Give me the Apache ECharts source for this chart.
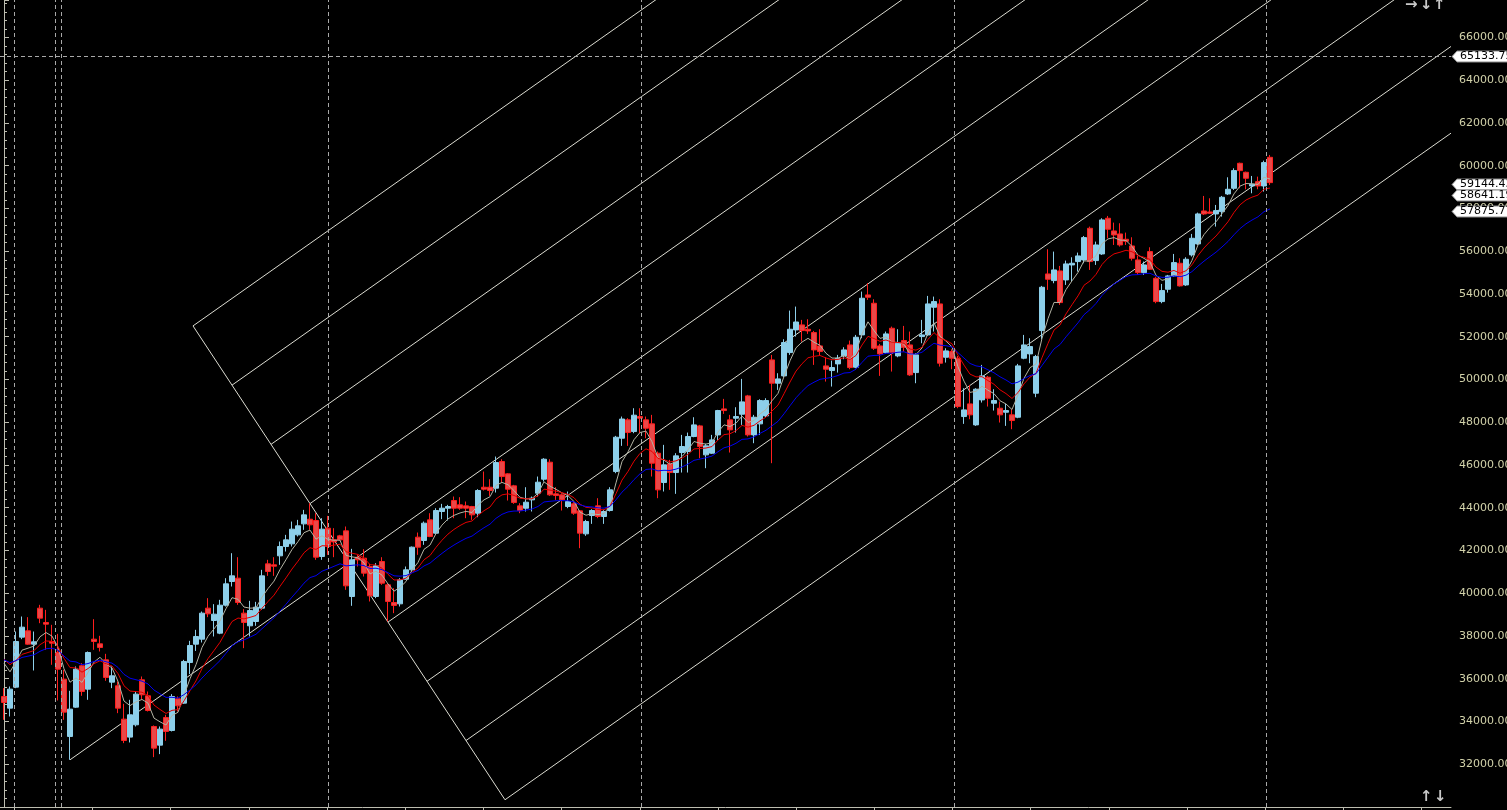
<!DOCTYPE html>
<html><head><meta charset="utf-8">
<script src="https://cdn.jsdelivr.net/npm/echarts@6/dist/echarts.min.js"></script>
<style>html,body{margin:0;padding:0;background:#000;}#c{width:1507px;height:810px;}</style>
</head><body><div id="c"></div>
<script>
// ---- candle data (weekly) ----
const opens = [35170,34625,35607,37946,38242,37618,39302,38632,37743,37228,35981,33300,34672,36605,35514,37852,37634,36885,35841,35669,34110,33269,33845,35950,35202,33767,32894,34188,33580,35061,34859,36761,37618,37852,39302,38725,38133,39442,40549,40705,39068,38476,38678,39302,41375,41329,41750,42186,42311,42732,43246,43464,43402,41718,43044,42500,42685,42919,39848,41687,41641,41251,39848,41485,40393,39567,39505,40658,41095,42623,42467,43434,42810,43824,43979,44338,44135,44088,44058,43746,44961,44961,44915,46162,45585,45024,44088,43979,44369,44681,45336,46131,44650,44603,44058,44182,43855,42779,43636,44088,43590,43870,45694,47253,48111,47565,48267,48111,47924,46552,45180,46053,45647,46583,46630,47331,47830,46474,46552,47409,48625,48111,48189,48376,49233,47409,47924,48298,50917,49826,50168,51260,52320,52554,52351,52195,51571,50636,50418,50730,51104,51618,50574,52086,53957,53567,51571,51260,52398,51104,51821,51618,50324,52008,52086,53380,53536,51041,51306,50995,48267,48859,47877,49046,50106,48890,48656,48469,48345,48235,50995,51198,49358,52289,54939,54627,55079,54658,55360,55516,55594,57075,55563,55874,57543,56950,56810,56560,56249,55594,55001,55983,54736,53645,54222,54845,55438,54424,55828,56342,57885,57838,57745,57854,58680,58946,60115,59694,59055,59257,59055,60395];
const highs = [35560,35638,38210,38912,38881,38210,39458,39224,38522,38101,36418,35436,36574,36730,37275,38787,38008,37166,36574,35872,34828,35015,35404,36106,35404,33814,33767,34313,35280,35171,36885,37774,38289,39146,39770,39489,39692,40705,41874,41687,39255,39645,39598,41095,41563,41687,42420,42732,43355,43433,43901,44213,43745,43511,43621,43044,42732,43122,42077,41796,42062,41376,41407,41687,40471,40237,40705,41251,42186,42841,43356,43745,43979,44182,44135,44525,44494,44291,44088,44868,45694,45336,46396,46271,45616,45071,44213,44961,44525,45460,46318,46271,44961,44681,44759,44291,43855,43434,43932,44447,43902,44961,47362,48267,48189,48656,48656,48267,48345,46630,46942,46240,46552,47409,47518,48235,47877,46988,47409,48579,49093,48345,48703,50028,49280,48345,49077,49124,51151,50293,51883,53224,53411,52788,52819,52273,52351,51041,50885,51151,51509,51821,52086,54113,54502,53754,51665,52242,52476,52351,52507,52242,51229,52788,53910,53879,53754,51462,51416,51104,49592,49747,49592,50683,50168,49545,48968,48859,48610,50730,52086,51930,51151,54378,56093,55983,55313,55563,55719,55937,56716,57153,56451,57543,57652,57340,57309,56872,56654,55781,55516,56186,54814,54471,54892,55874,55672,55719,56810,57807,58587,58478,58166,58587,59460,59881,60146,59725,59522,59491,60240,60505];
const lows = [34080,34235,35560,37852,37587,36386,38600,37353,36652,34983,34079,32208,34640,35202,35015,37353,37275,35903,35560,34391,32988,33019,33767,35046,34469,32333,32473,33097,33534,34469,34828,36215,37300,37696,38881,37977,38086,39380,40315,39458,37431,37977,38476,39224,40814,40814,41329,41952,42186,42654,42966,42966,41563,41563,41796,41687,42467,40160,39411,41251,40783,39614,39770,40393,38678,39068,39380,40627,41017,41796,42264,42623,42779,43465,43402,43512,43901,43512,43434,43558,44806,44556,44712,45180,44338,44182,43746,43824,43824,44525,45226,44556,44369,43870,43979,43668,42108,42685,43246,43512,43246,43824,45616,46895,46895,47487,47487,47253,45460,44447,44759,44837,44650,45647,45647,47300,46318,45850,46520,47175,48391,46583,47518,47877,47331,47019,47409,48235,46084,49514,50106,51151,52008,51774,52133,50683,51104,49903,49670,50324,50948,50480,50527,51930,53723,51384,50168,51197,50371,51041,51307,50168,49826,51696,52039,52242,50605,50792,50480,48656,47924,48142,47830,48921,48734,48547,47986,47830,47674,48189,50948,50761,49171,51883,54191,54502,53489,54424,54580,55048,55438,55126,55360,55828,56607,56295,56217,56295,55563,54892,54892,55126,53567,53567,54066,54814,54347,54378,55750,56295,57698,57745,57153,57620,58634,58868,58946,58899,58712,58899,58790,59101];
const closes = [34890,35514,37743,38413,37618,37727,38834,38554,37665,36449,34438,34578,36449,35404,37228,37743,37462,36059,36137,34625,33113,34313,35280,35249,34516,32754,33643,33534,35171,34734,36807,37556,37977,39068,39037,39021,39442,40440,40814,39567,38632,39193,39349,40814,41017,41266,42186,42498,42997,43153,43667,43200,41687,42997,42186,42400,42498,40347,41563,41563,40939,39879,41282,40472,39614,39427,40627,41095,42155,42155,43278,42654,43870,43979,44058,43979,43979,43979,43668,44806,44868,44806,46115,45460,44868,44244,43870,44260,44447,45195,46271,44603,44572,44369,44291,43746,42810,43356,43870,43590,43824,44837,47300,48150,47518,48330,48189,47721,46084,44837,46006,45647,46427,46864,47331,47877,46864,46895,47175,48547,48547,47643,48267,48953,47409,48235,49015,49015,49826,50028,51728,52351,52690,52289,52273,51384,51307,50480,50558,50995,51384,50558,51977,53801,53848,51462,51197,52133,51260,51696,51509,50215,51151,52086,53536,53645,50761,51338,50994,48734,48578,48345,49545,50168,49124,49015,48345,48547,48080,50636,51618,51540,51073,54315,54689,55126,53598,55407,55438,55781,56638,55516,56295,57465,57028,56763,56295,56467,55672,55001,55360,55157,53645,54159,54845,55469,54378,55625,56607,57745,57745,57776,57901,58525,58899,59772,59772,59413,59133,59055,60146,59210];

// moving averages: value of each line at the first candle (read), periods
const maNames  = ['MA5', 'MA10', 'MA20'];
const maStart  = [36730, 36916, 36885];
const maPeriods = [5, 10, 20];
const maColors = ['#b4b4a4', '#e60000', '#0000f0'];
// tags on the price axis
const maTags = [59144.43, 58641.19, 57875.77];
const crossPrice = 65133.75;
const crossBar = 210.45;
// dashed vertical separators (bar positions)
const separators = [1.73, 8.47, 9.58, 54.1, 106.2, 158.4];
// bottom axis ticks
const xTickStart = 1.73, xTickStep = 13.03, xTickCount = 19;
// price axis
const yMin = 30000, yMax = 67754, yStep = 2000;
// channel tool: spine (perpendicular) and base anchor
const spineStart = [31.5, 52507], spineEnd = [83.5, 30338], channelLevels = 8;
const baseAnchor = [11, 32208], baseLevel = 4;
const channelSlope = 197.8; // price per bar

const xMin = -0.6667, xMax = 241.1667;

const n = closes.length;
const candleData = closes.map((c, i) => [i, opens[i], c, lows[i], highs[i]]);

function ema(seed, period) {
  const a = 2 / (period + 1);
  const out = [[0, seed]];
  let v = seed;
  for (let i = 1; i < n; i++) { v = v + a * (closes[i] - v); out.push([i, v]); }
  return out;
}

const series = [];
series.push({
  type: 'candlestick', name: 'K', data: candleData, barWidth: 5,
  itemStyle: { color: '#8dcfea', borderColor: '#8dcfea', color0: '#e84848', borderColor0: '#ff1e1e', borderWidth: 1 },
  markLine: {
    silent: true, symbol: 'none', label: { show: false }, animation: false,
    lineStyle: { color: '#a8a8a8', type: [4, 3], width: 1 },
    data: separators.map(v => ({ xAxis: v })).concat([{ xAxis: crossBar }, { yAxis: crossPrice }])
  }
});

// channel lines
const lineStyleW = { color: '#dcdcd2', width: 1 };
series.push({ type: 'line', data: [spineStart, spineEnd], symbol: 'none', lineStyle: lineStyleW, silent: true, z: 1 });
for (let k = 0; k <= channelLevels; k++) {
  const t = k / channelLevels;
  const sx = spineStart[0] + t * (spineEnd[0] - spineStart[0]);
  const sy = spineStart[1] + t * (spineEnd[1] - spineStart[1]);
  const start = (k === baseLevel) ? baseAnchor : [sx, sy];
  const end = [xMax, sy + channelSlope * (xMax - sx)];
  series.push({ type: 'line', data: [start, end], symbol: 'none', lineStyle: lineStyleW, silent: true, z: 1 });
}

maPeriods.forEach((p, j) => {
  series.push({ type: 'line', name: maNames[j], data: ema(maStart[j], p), symbol: 'none', smooth: false,
    lineStyle: { color: maColors[j], width: 1 }, silent: true, z: 3 });
});

// tags on price axis
const tagVals = [crossPrice].concat(maTags);
series.push({
  type: 'custom', clip: false, silent: true, z: 10,
  data: tagVals.map(v => [xMax, v]),
  renderItem: function (params, api) {
    const p = api.coord([api.value(0), api.value(1)]);
    const x = p[0] + 1, y = Math.round(p[1]) + 0.5, h = 5.5;
    return {
      type: 'group', children: [
        { type: 'polygon', shape: { points: [[x, y], [x + 5, y - h], [x + 70, y - h], [x + 70, y + h], [x + 5, y + h]] },
          style: { fill: '#ffffff', stroke: '#8a8a8a', lineWidth: 1 } },
        { type: 'text', style: { x: x + 8, y: y, text: api.value(1).toFixed(2), fill: '#000', font: '11px "DejaVu Sans"', verticalAlign: 'middle' } }
      ]
    };
  }
});

const xTicks = [];
for (let k = 0; k < xTickCount; k++) xTicks.push(xTickStart + k * xTickStep);

const arrowFont = 'bold 15px "DejaVu Sans"';
const chart = echarts.init(document.getElementById('c'), null, { renderer: 'canvas' });
chart.setOption({
  backgroundColor: '#000000',
  animation: false,
  grid: { left: 0, right: 56, top: 0, bottom: 3, containLabel: false, outerBoundsMode: 'none' },
  xAxis: {
    type: 'value', min: xMin, max: xMax,
    axisLine: { show: true, lineStyle: { color: '#bdbdb0', width: 1 } },
    axisTick: { show: true, customValues: xTicks, length: 3, lineStyle: { color: '#bdbdb0' } },
    axisLabel: { show: false }, splitLine: { show: false }
  },
  yAxis: {
    type: 'value', position: 'right', min: yMin, max: yMax, interval: yStep,
    axisLine: { show: true, lineStyle: { color: '#bdbdb0', width: 1 } },
    axisTick: { show: true, length: 5, lineStyle: { color: '#bdbdb0' } },
    minorTick: { show: true, splitNumber: 5, length: 3, lineStyle: { color: '#bdbdb0' } },
    axisLabel: { show: true, color: '#d2d2aa', fontFamily: 'DejaVu Sans', fontSize: 11, margin: 8,
      showMinLabel: false, showMaxLabel: false, formatter: v => v.toFixed(2) },
    splitLine: { show: false }
  },
  graphic: [
    { type: 'text', left: 1405, top: -2, style: { text: '→', fill: '#c8c8c8', font: arrowFont } },
    { type: 'text', left: 1420, top: -2, style: { text: '↓', fill: '#c8c8c8', font: arrowFont } },
    { type: 'text', left: 1433, top: -2, style: { text: '↑', fill: '#c8c8c8', font: arrowFont } },
    { type: 'text', left: 1420, top: 790, style: { text: '↑', fill: '#c8c8c8', font: arrowFont } },
    { type: 'text', left: 1434, top: 790, style: { text: '↓', fill: '#c8c8c8', font: arrowFont } }
  ],
  series: series
});
</script></body></html>
